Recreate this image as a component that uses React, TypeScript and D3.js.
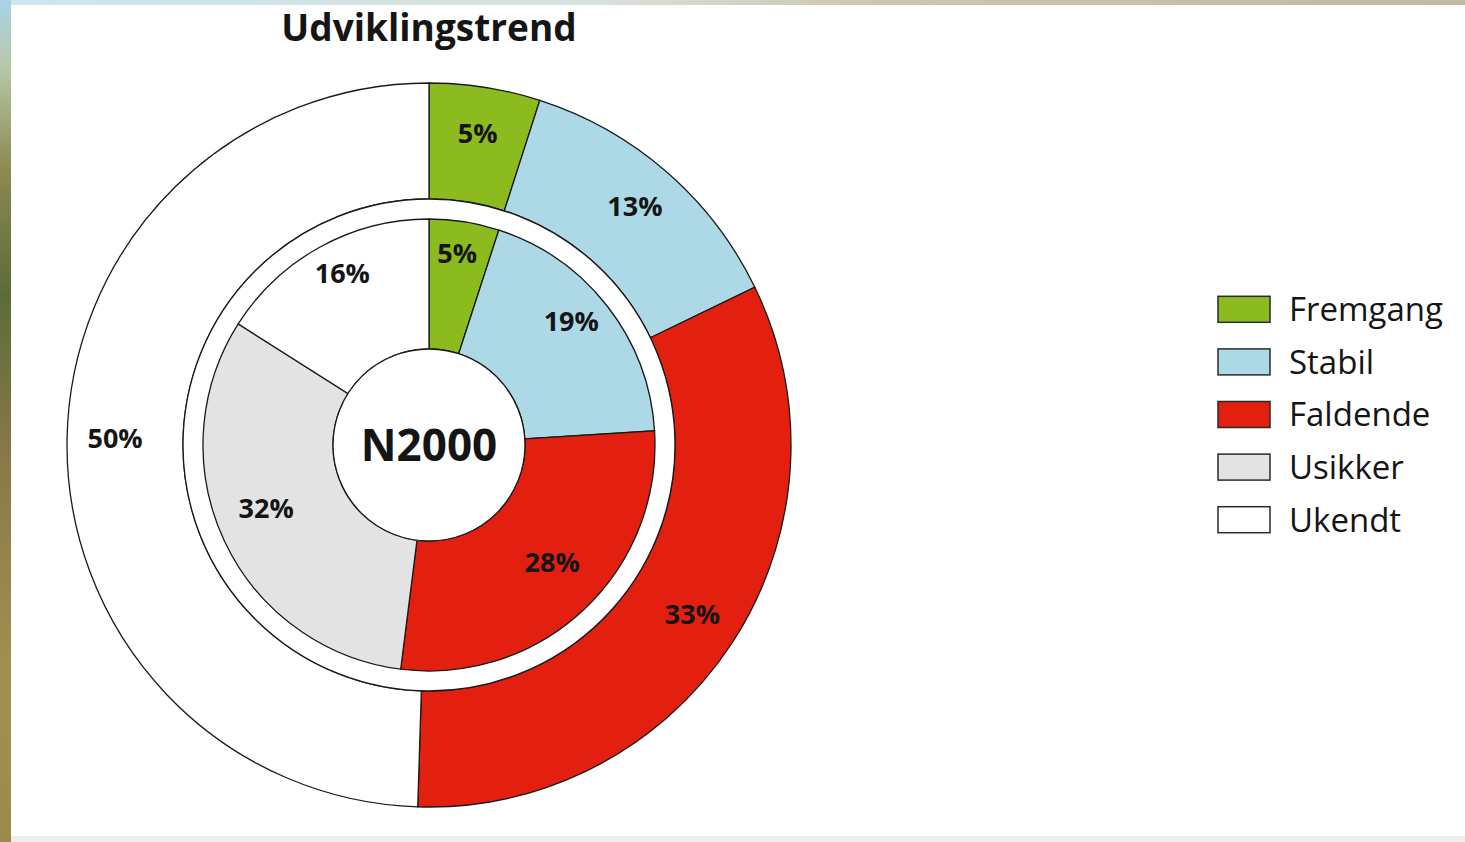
import React from "react";
import * as d3 from "d3";

const categories = ["Fremgang", "Stabil", "Faldende", "Usikker", "Ukendt"];
const colors = ["#8cbb1f", "#add8e6", "#e3200f", "#e3e3e3", "#ffffff"];
const outerValues = [5, 13, 33, 0, 50];
const innerValues = [5, 19, 28, 32, 16];
const title = "Udviklingstrend";
const centerLabel = "N2000";

const W = 1465;
const H = 842;
const cx = 429;
const cy = 445;
const R_OUT = 362;
const R_OUT_IN = 246;
const R_IN_OUT = 226;
const R_CENTER = 96;
const FONT = "'Open Sans', 'DejaVu Sans', sans-serif";

export default function App() {
  const pie = d3
    .pie<number>()
    .sort(null)
    .value((d) => d);
  const outerArcs = pie(outerValues);
  const innerArcs = pie(innerValues);
  const outerArc = d3.arc<d3.PieArcDatum<number>>().innerRadius(R_OUT_IN).outerRadius(R_OUT);
  const innerArc = d3.arc<d3.PieArcDatum<number>>().innerRadius(R_CENTER).outerRadius(R_IN_OUT);
  const outerLabel = d3.arc<d3.PieArcDatum<number>>().innerRadius(314).outerRadius(314);
  const innerLabel = d3.arc<d3.PieArcDatum<number>>().innerRadius(180).outerRadius(180);

  const legendY = d3.scaleBand<string>().domain(categories).range([283, 546]);

  return (
    <div style={{ position: "fixed", left: 0, top: 0, width: W, height: H }}>
      <svg width={W} height={H} style={{ display: "block" }}>
        <defs>
          <linearGradient id="strip" x1="0" y1="0" x2="0" y2="1">
            <stop offset="0" stopColor="#a9d3e6" />
            <stop offset="0.08" stopColor="#b8c8a8" />
            <stop offset="0.2" stopColor="#8c8a50" />
            <stop offset="0.35" stopColor="#5d6b3a" />
            <stop offset="0.55" stopColor="#8a7a48" />
            <stop offset="0.8" stopColor="#a29050" />
            <stop offset="1" stopColor="#9b8b4a" />
          </linearGradient>
          <linearGradient id="topstrip" x1="0" y1="0" x2="1" y2="0">
            <stop offset="0" stopColor="#b7dcea" />
            <stop offset="0.4" stopColor="#c9d6cf" />
            <stop offset="0.6" stopColor="#b6ad8c" />
            <stop offset="1" stopColor="#a89a78" />
          </linearGradient>
        </defs>
        <rect x={0} y={0} width={W} height={H} fill="#ffffff" />
        <rect x={0} y={0} width={W} height={5} fill="url(#topstrip)" opacity={0.7} />
        <rect x={0} y={0} width={11} height={H} fill="url(#strip)" />
        <rect x={11} y={836} width={W - 11} height={6} fill="#eeeeee" />

        <text
          x={cx}
          y={41}
          textAnchor="middle"
          fontFamily={FONT}
          fontWeight={700}
          fontSize={37}
          fill="#151515"
        >
          {title}
        </text>

        <g transform={`translate(${cx},${cy})`}>
          {outerArcs.map((a, i) =>
            a.value > 0 ? (
              <path
                key={"o" + i}
                d={outerArc(a) || ""}
                fill={colors[i]}
                stroke="#1a1a1a"
                strokeWidth={1.3}
              />
            ) : null
          )}
          <circle r={R_OUT_IN} fill="#ffffff" stroke="#1a1a1a" strokeWidth={1.3} />
          {innerArcs.map((a, i) => (
            <path
              key={"i" + i}
              d={innerArc(a) || ""}
              fill={colors[i]}
              stroke="#1a1a1a"
              strokeWidth={1.3}
            />
          ))}
          <circle r={R_CENTER} fill="#ffffff" stroke="#1a1a1a" strokeWidth={1.3} />
          {outerArcs.map((a, i) => {
            if (a.value <= 0) return null;
            const [x, y] = outerLabel.centroid(a);
            return (
              <text
                key={"ol" + i}
                x={x}
                y={y}
                dy="0.3em"
                textAnchor="middle"
                fontFamily={FONT}
                fontWeight={700}
                fontSize={27}
                fill="#151515"
              >
                {a.value + "%"}
              </text>
            );
          })}
          <g transform="translate(0,-12)">
            {innerArcs.map((a, i) => {
              const [x, y] = innerLabel.centroid(a);
              return (
                <text
                  key={"il" + i}
                  x={x}
                  y={y}
                  dy="0.3em"
                  textAnchor="middle"
                  fontFamily={FONT}
                  fontWeight={700}
                  fontSize={27}
                  fill="#151515"
                >
                  {a.value + "%"}
                </text>
              );
            })}
          </g>
          <text
            x={0}
            y={0}
            dy="0.36em"
            textAnchor="middle"
            fontFamily={FONT}
            fontWeight={700}
            fontSize={44}
            fill="#151515"
          >
            {centerLabel}
          </text>
        </g>

        <g>
          {categories.map((c, i) => {
            const y = (legendY(c) || 0) + legendY.bandwidth() / 2;
            return (
              <g key={c}>
                <rect
                  x={1218}
                  y={y - 13}
                  width={52}
                  height={26}
                  fill={colors[i]}
                  stroke="#2a2a2a"
                  strokeWidth={1.5}
                />
                <text
                  x={1289}
                  y={y}
                  dy="0.36em"
                  fontFamily={FONT}
                  fontSize={33}
                  fill="#151515"
                >
                  {c}
                </text>
              </g>
            );
          })}
        </g>
      </svg>
    </div>
  );
}
